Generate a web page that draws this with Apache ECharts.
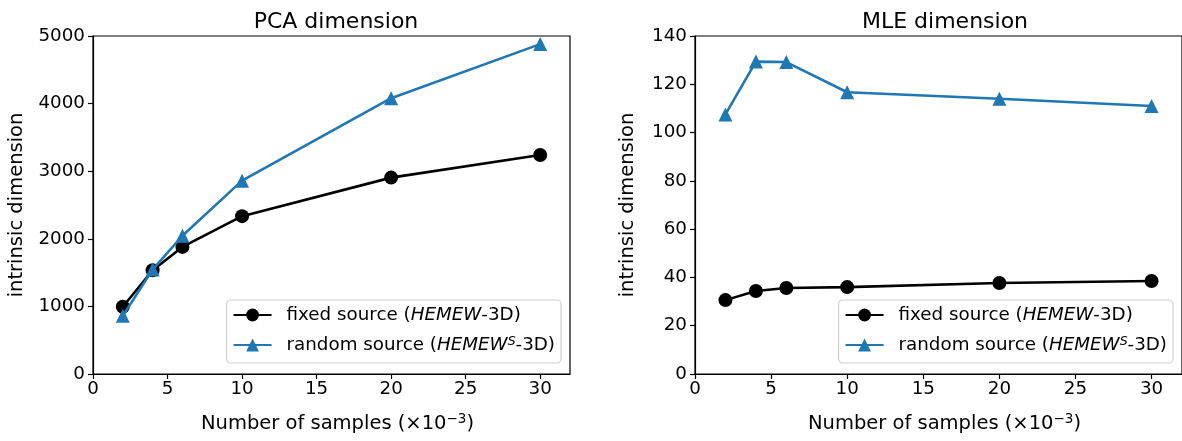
<!DOCTYPE html>
<html>
<head>
<meta charset="utf-8">
<script src="https://cdn.jsdelivr.net/npm/echarts@6/dist/echarts.min.js"></script>
<style>
html,body{margin:0;padding:0;background:#fff;}
#main{width:1182px;height:441px;}
</style>
</head>
<body>
<div id="main"></div>
<script>
// ---- data ----
const samples = [2, 4, 6, 10, 20, 30];
const xTicks = [0, 5, 10, 15, 20, 25, 30];
const pcaFixed = [995, 1535, 1880, 2335, 2905, 3240];
const pcaRandom = [860, 1545, 2045, 2860, 4080, 4880];
const mleFixed = [30.6, 34.4, 35.6, 36.0, 37.7, 38.5];
const mleRandom = [107.5, 129.4, 129.2, 116.7, 114.0, 111.0];
const titles = ['PCA dimension', 'MLE dimension'];
const seriesNames = ['fixed source (HEMEW-3D)', 'random source (HEMEW^S-3D)'];

const FONT = 'DejaVu Sans';
const FS = 18.3;
const FN = 19.5;
const BLUE = '#1f77b4';

function pairs(ys) { return samples.map((x, i) => [x, ys[i]]); }

const grids = [
  { left: 93, top: 36, width: 477, height: 338, show: true, borderColor: '#000', borderWidth: 1.2 },
  { left: 695, top: 36, width: 490, height: 338, show: true, borderColor: '#000', borderWidth: 1.2 }
];

function xAxis(gi) {
  return {
    type: 'value', gridIndex: gi, min: 0, max: 32, interval: 5,
    name: '{n|Number of samples (×10}{s|−3}{n|)}',
    nameLocation: 'middle', nameGap: 38,
    nameTextStyle: {
      padding: [0, 0, 0, 12],
      rich: {
        n: { fontFamily: FONT, fontSize: FN, color: '#000' },
        s: { fontFamily: FONT, fontSize: 13.5, color: '#000', verticalAlign: 'top', padding: [0, 0, 9, 0] }
      }
    },
    axisLine: { show: true, lineStyle: { color: '#000', width: 1.2 } },
    axisTick: { show: true, length: 5, customValues: xTicks, lineStyle: { color: '#000', width: 1.2 } },
    axisLabel: { customValues: xTicks, fontFamily: FONT, fontSize: FS, color: '#000', margin: 6 },
    splitLine: { show: false }
  };
}

function yAxis(gi, max, interval) {
  return {
    type: 'value', gridIndex: gi, min: 0, max: max, interval: interval,
    name: 'intrinsic dimension', nameLocation: 'middle',
    nameGap: gi === 0 ? 66 : 57,
    nameTextStyle: { fontFamily: FONT, fontSize: FN, color: '#000' },
    axisLine: { show: true, lineStyle: { color: '#000', width: 1.2 } },
    axisTick: { show: true, length: 5, lineStyle: { color: '#000', width: 1.2 } },
    axisLabel: { fontFamily: FONT, fontSize: FS, color: '#000', margin: 8, formatter: v => String(v) },
    splitLine: { show: false }
  };
}

function lineSeries(name, gi, ys, color, symbol, size) {
  return {
    name: name, type: 'line', xAxisIndex: gi, yAxisIndex: gi,
    data: pairs(ys), symbol: symbol, symbolSize: size,
    showAllSymbol: true,
    lineStyle: { color: color, width: 2.6 },
    itemStyle: { color: color },
    emphasis: { disabled: true },
    animation: false, z: symbol === 'triangle' ? 3 : 2
  };
}

const legendRich = {
  n: { fontFamily: FONT, fontSize: FS, color: '#000' },
  i: { fontFamily: FONT, fontSize: FS, color: '#000', fontStyle: 'italic' },
  s: { fontFamily: FONT, fontSize: 12.5, color: '#000', fontStyle: 'italic', verticalAlign: 'top', padding: [0, 0, 7, 0] }
};
function legendFmt(name) {
  if (name === seriesNames[0]) return '{n|fixed source (}{i|HEMEW}{n|-3D)}';
  return '{n|random source (}{i|HEMEW}{s|S}{n|-3D)}';
}
function legend(right) {
  return {
    orient: 'vertical', right: right, top: 300,
    data: seriesNames, itemWidth: 38, itemHeight: 16, itemGap: 11,
    padding: [6, 6, 9, 6],
    borderColor: '#d0d0d0', borderWidth: 1.2, borderRadius: 4,
    backgroundColor: 'rgba(255,255,255,0.8)',
    selectedMode: false,
    formatter: legendFmt,
    textStyle: { rich: legendRich, padding: [0, 0, 0, 10] }
  };
}

const option = {
  backgroundColor: '#fff',
  animation: false,
  title: [
    { text: titles[0], left: 331, top: 6, textAlign: 'center', textStyle: { fontFamily: FONT, fontSize: 22, fontWeight: 'normal', color: '#000' } },
    { text: titles[1], left: 940, top: 6, textAlign: 'center', textStyle: { fontFamily: FONT, fontSize: 22, fontWeight: 'normal', color: '#000' } }
  ],
  grid: grids,
  xAxis: [xAxis(0), xAxis(1)],
  yAxis: [yAxis(0, 5000, 1000), yAxis(1, 140, 20)],
  legend: [legend(1182 - 561), legend(9)],
  series: [
    lineSeries(seriesNames[0], 0, pcaFixed, '#000', 'circle', 14),
    lineSeries(seriesNames[1], 0, pcaRandom, BLUE, 'triangle', 14),
    lineSeries(seriesNames[0], 1, mleFixed, '#000', 'circle', 14),
    lineSeries(seriesNames[1], 1, mleRandom, BLUE, 'triangle', 14)
  ]
};

const chart = echarts.init(document.getElementById('main'), null, { renderer: 'canvas' });
chart.setOption(option);
</script>
</body>
</html>
